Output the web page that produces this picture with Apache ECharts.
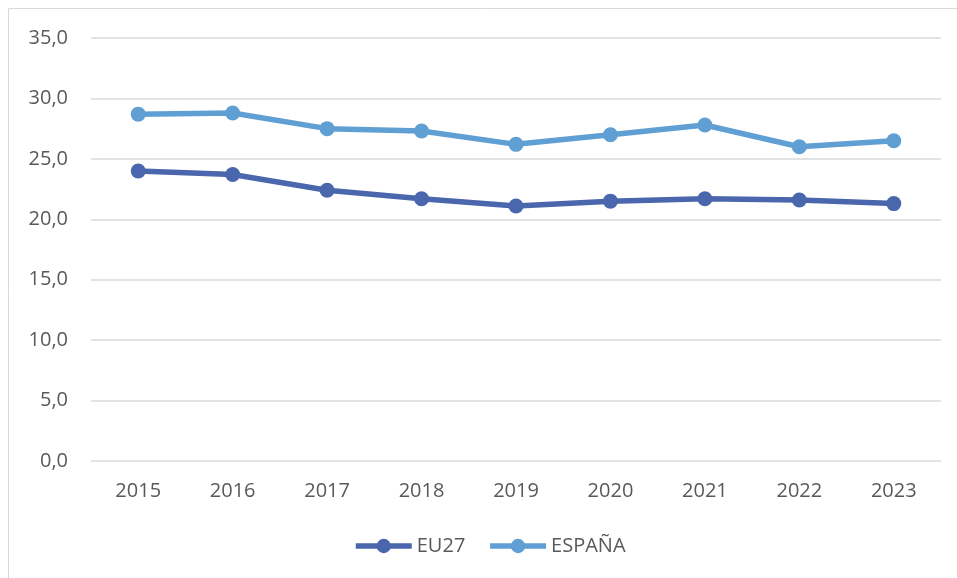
<!DOCTYPE html>
<html>
<head>
<meta charset="utf-8">
<script src="https://cdn.jsdelivr.net/npm/echarts@6/dist/echarts.min.js"></script>
<style>
  html, body { margin: 0; padding: 0; background: #fff; }
  #chart { width: 957px; height: 578px; }
</style>
</head>
<body>
<div id="chart"></div>
<script>
// datos
const years = ['2015', '2016', '2017', '2018', '2019', '2020', '2021', '2022', '2023'];
const eu27 = [24.0, 23.7, 22.4, 21.7, 21.1, 21.5, 21.7, 21.6, 21.3];
const espana = [28.7, 28.8, 27.5, 27.3, 26.2, 27.0, 27.8, 26.0, 26.5];

const FONT = '"Open Sans", sans-serif';
const TXT = '#595959';

const chart = echarts.init(document.getElementById('chart'));

function serie(name, data, color) {
  return {
    name: name,
    type: 'line',
    data: data,
    symbol: 'circle',
    symbolSize: 15,
    lineStyle: { width: 5.5, color: color },
    itemStyle: { color: color },
    emphasis: { disabled: true }
  };
}

chart.setOption({
  animation: false,
  graphic: [{
    type: 'rect',
    shape: { x: 8.5, y: 8.5, width: 1000, height: 1000 },
    style: { fill: 'none', stroke: '#d9d9d9', lineWidth: 1 },
    silent: true
  }],
  grid: { left: 91, right: 16, top: 38, bottom: 117 },
  legend: {
    top: 531,
    left: 348,
    itemWidth: 56,
    itemHeight: 18,
    itemGap: 22,
    lineStyle: { width: 5.5 },
    textStyle: { fontFamily: FONT, fontSize: 20, color: TXT },
    data: ['EU27', 'ESPAÑA']
  },
  xAxis: {
    type: 'category',
    data: years,
    boundaryGap: true,
    axisLine: { show: false },
    axisTick: { show: false },
    axisLabel: { fontFamily: FONT, fontSize: 20, color: TXT, margin: 20 }
  },
  yAxis: {
    type: 'value',
    min: 0,
    max: 35,
    interval: 5,
    axisLine: { show: false },
    axisTick: { show: false },
    splitLine: { lineStyle: { color: '#d9d9d9', width: 1.5 } },
    axisLabel: {
      fontFamily: FONT, fontSize: 20, color: TXT, margin: 23,
      formatter: v => v.toFixed(1).replace('.', ',')
    }
  },
  series: [
    serie('EU27', eu27, '#4a66ac'),
    serie('ESPAÑA', espana, '#5f9fd4')
  ]
});
</script>
</body>
</html>
